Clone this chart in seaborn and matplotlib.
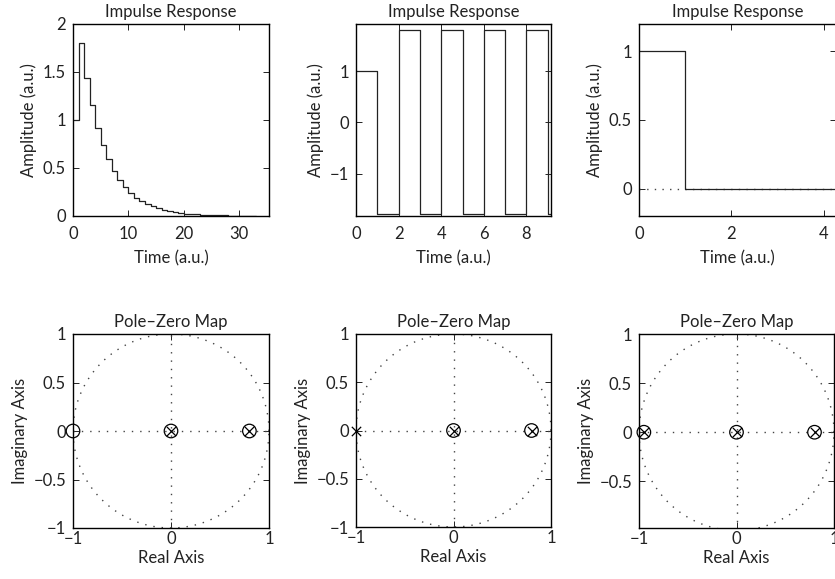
import numpy as np
import pandas as pd
import matplotlib
matplotlib.use("Agg")
import matplotlib.pyplot as plt
import seaborn as sns

# ---------------- data ----------------
# impulse responses
t1 = list(range(0, 34))
h1 = [1.0, 1.8, 1.44, 1.152, 0.92, 0.74, 0.59, 0.47, 0.38, 0.30, 0.24, 0.19,
      0.155, 0.124, 0.099, 0.079, 0.063, 0.051, 0.041, 0.032, 0.026, 0.021,
      0.017, 0.013, 0.011, 0.0085, 0.0068, 0.0054, 0.0044, 0.0035, 0.0028,
      0.0022, 0.0018, 0.0014]
t2 = list(range(0, 11))
h2 = [1.0, -1.8, 1.8, -1.8, 1.8, -1.8, 1.8, -1.8, 1.8, -1.8, 1.8]
t3 = [0, 1, 2, 3, 4, 5]
h3 = [1.0, 0.0, 0.0, 0.0, 0.0, 0.0]

# pole-zero maps
poles1 = [0.0, 0.8]
zeros1 = [-1.0, 0.0, 0.8]
poles2 = [-1.0, 0.0, 0.8]
zeros2 = [0.0, 0.8]
poles3 = [-0.95, 0.0, 0.8]
zeros3 = [-0.95, 0.0, 0.8]

xticks_top = [[0, 10, 20, 30], [0, 2, 4, 6, 8], [0, 2, 4]]
yticks_top = [[0, 0.5, 1, 1.5, 2], [-1, 0, 1], [0, 0.5, 1]]
ytick_labels_top = [["0", "0.5", "1", "1.5", "2"], ["\u22121", "0", "1"], ["0", "0.5", "1"]]

# ---------------- style ----------------
sns.set_theme(style="white")
plt.rcParams["font.family"] = ["Lato", "DejaVu Sans"]
plt.rcParams["lines.scale_dashes"] = False
FS = 12
TXT = "#222222"

fig = plt.figure(figsize=(8.35, 5.79), dpi=100)
W, H = 835.0, 579.0


def add_axes(l, r, t, b):
    return fig.add_axes([l / W, 1 - b / H, (r - l) / W, (b - t) / H])


def style_axes(ax, xpad):
    for s in ax.spines.values():
        s.set_visible(True)
        s.set_color("black")
        s.set_linewidth(1.0)
    ax.tick_params(direction="in", length=4, width=0.6, colors="black",
                   top=True, right=True, bottom=True, left=True,
                   labelsize=FS, labelcolor=TXT)
    ax.tick_params(axis="x", pad=xpad)
    ax.tick_params(axis="y", pad=5)
    ax.set_facecolor("white")


top_boxes = [(73, 269, 24, 216), (356, 551, 24, 216), (639, 836, 24, 216)]
xlims_top = [(0, 35.4), (0, 9.15), (0, 4.27)]
ylims_top = [(0, 2), (-1.83, 1.92), (-0.2, 1.2)]
series = [(t1, h1), (t2, h2), (t3, h3)]

for i in range(3):
    ax = add_axes(*top_boxes[i])
    style_axes(ax, 7)
    t, h = series[i]
    if i == 2:
        ax.plot([0, 4.5], [0, 0], color="#444444", lw=1.0,
                linestyle=(0, (1, 4.5)), zorder=1)
    df = pd.DataFrame({"t": t, "h": h})
    sns.lineplot(data=df, x="t", y="h", drawstyle="steps-post",
                 color="#222222", lw=0.9, ax=ax, zorder=2)
    ax.set_xlim(*xlims_top[i])
    ax.set_ylim(*ylims_top[i])
    ax.set_xticks(xticks_top[i])
    ax.set_xticklabels([str(v) for v in xticks_top[i]])
    ax.set_yticks(yticks_top[i])
    ax.set_yticklabels(ytick_labels_top[i])
    ax.set_title("Impulse Response", fontsize=FS, color=TXT, pad=5)
    ax.set_xlabel("Time (a.u.)", fontsize=FS, color=TXT, labelpad=6)
    ax.set_ylabel("Amplitude (a.u.)", fontsize=FS, color=TXT, labelpad=4)

bot_boxes = [(73, 269, 334, 528), (356, 551, 334, 527), (639, 834, 334, 528)]
ylims_bot = [(-1, 1), (-1, 1), (-0.975, 1.0)]
yticks_bot = [[-1, -0.5, 0, 0.5, 1], [-1, -0.5, 0, 0.5, 1], [-0.5, 0, 0.5, 1]]
ylabels_bot = [["\u22121", "\u22120.5", "0", "0.5", "1"],
               ["\u22121", "\u22120.5", "0", "0.5", "1"],
               ["\u22120.5", "0", "0.5", "1"]]
pz = [(poles1, zeros1), (poles2, zeros2), (poles3, zeros3)]
theta = np.linspace(0, 2 * np.pi, 400)

for i in range(3):
    ax = add_axes(*bot_boxes[i])
    style_axes(ax, 2)
    dot = dict(color="#444444", lw=1.0, linestyle=(0, (1, 5.0)), zorder=1)
    ax.plot(np.cos(theta), np.sin(theta), **dot)
    ax.plot([-1, 1], [0, 0], **dot)
    ax.plot([0, 0], [-1, 1], **dot)
    poles, zeros = pz[i]
    sns.scatterplot(x=zeros, y=[0.0] * len(zeros), marker="o", s=95,
                    facecolors="none", edgecolors="black", linewidth=0.9,
                    ax=ax, clip_on=False, zorder=3)
    sns.scatterplot(x=poles, y=[0.0] * len(poles), marker="x", s=45,
                    color="black", linewidth=0.9,
                    ax=ax, clip_on=False, zorder=4)
    ax.set_xlim(-1, 1)
    ax.set_ylim(*ylims_bot[i])
    ax.set_xticks([-1, 0, 1])
    ax.set_xticklabels(["\u22121", "0", "1"])
    ax.set_yticks(yticks_bot[i])
    ax.set_yticklabels(ylabels_bot[i])
    ax.set_title("Pole\u2013Zero Map", fontsize=FS, color=TXT, pad=5)
    ax.set_xlabel("Real Axis", fontsize=FS, color=TXT, labelpad=2)
    ax.set_ylabel("Imaginary Axis", fontsize=FS, color=TXT, labelpad=4)

fig.savefig("out.png", dpi=100, facecolor="white")
